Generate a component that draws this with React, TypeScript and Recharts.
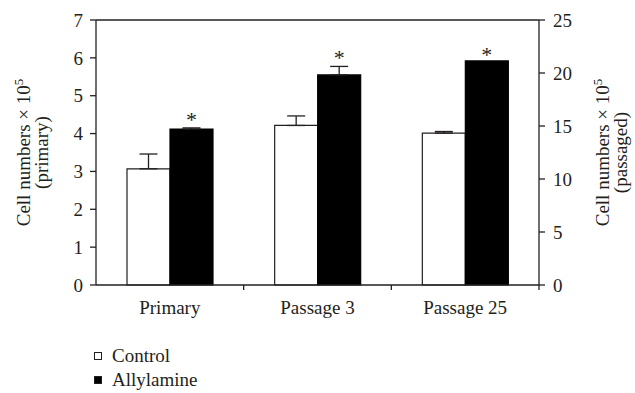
import { BarChart, Bar, XAxis, YAxis, ErrorBar, LabelList, Legend, ReferenceLine } from 'recharts';

const categories = ['Primary', 'Passage 3', 'Passage 25'];
// first group is read on the left (primary) axis, the passages on the right one
const groupAxis = ['primary', 'passaged', 'passaged'];
const controlMeans = [3.07, 15.05, 14.33];
const controlErrors = [0.39, 0.9, 0.15];
const allylamineMeans = [4.12, 19.82, 21.14];
const allylamineErrors = [0.03, 0.8, 0];
const significant = [true, true, true];
const primaryTicks = [0, 1, 2, 3, 4, 5, 6, 7];
const passagedTicks = [0, 5, 10, 15, 20, 25];
const seriesOrder = ['Control', 'Allylamine'];

const INK = '#231f20';
const FONT = '"Liberation Serif", "Times New Roman", serif';
const STAR_LIFT = [2, 10, -1]; // px of baseline above bar top, clears the error cap

const upOnly = (v: number) => (v > 0 ? [0, v] : null);

const rows = categories.map((name, i) => {
  const left = groupAxis[i] === 'primary';
  return {
    name,
    ctrlPrimary: left ? controlMeans[i] : null,
    ctrlPassaged: left ? null : controlMeans[i],
    allyPrimary: left ? allylamineMeans[i] : null,
    allyPassaged: left ? null : allylamineMeans[i],
    ctrlErrPrimary: left ? upOnly(controlErrors[i]) : null,
    ctrlErrPassaged: left ? null : upOnly(controlErrors[i]),
    allyErrPrimary: left ? upOnly(allylamineErrors[i]) : null,
    allyErrPassaged: left ? null : upOnly(allylamineErrors[i]),
  };
});

function CategoryTick({ x, y, payload }: any) {
  const edge = payload?.offset != null ? x + payload.offset : null;
  return (
    <g>
      {edge != null && <line x1={edge} x2={edge} y1={y} y2={y + 5} stroke={INK} strokeWidth={1.3} />}
      <text x={x} y={y + 29} textAnchor="middle" fontSize={19} fontFamily={FONT} fill={INK}>
        {payload.value}
      </text>
    </g>
  );
}

const axisTitle = (sub: string, first: number, second: number) => (props: any) => {
  const vb = props.viewBox ?? { x: 0, y: 0, width: 0, height: 0 };
  const cy = vb.y + vb.height / 2;
  const x1 = vb.x + first;
  const x2 = vb.x + second;
  return (
    <g fontFamily={FONT} fontSize={19} fill={INK}>
      <text x={x1} y={cy} textAnchor="middle" transform={`rotate(-90, ${x1}, ${cy})`}>
        Cell numbers × 10<tspan dy={-7} fontSize={13}>5</tspan>
      </text>
      <text x={x2} y={cy} textAnchor="middle" transform={`rotate(-90, ${x2}, ${cy})`}>
        {sub}
      </text>
    </g>
  );
};

// label value is the category name, so the mark is looked up per group
const star = (props: any) => {
  const { x, y, width, value } = props;
  const i = categories.indexOf(value);
  if (i < 0 || !significant[i]) return null;
  return (
    <text x={x + width / 2} y={y - STAR_LIFT[i]} textAnchor="middle" fontSize={22} fontFamily={FONT} fill={INK}>
      *
    </text>
  );
};

function KeyList({ payload }: any) {
  const items = (payload ?? [])
    .filter((e: any) => e.type !== 'none' && seriesOrder.includes(e.value))
    .sort((a: any, b: any) => seriesOrder.indexOf(a.value) - seriesOrder.indexOf(b.value));
  return (
    <div style={{ fontFamily: FONT, fontSize: 19, color: INK, paddingTop: 6 }}>
      {items.map((e: any) => (
        <div key={e.value} style={{ display: 'flex', alignItems: 'center', height: 24 }}>
          <span
            style={{ width: 8, height: 8, boxSizing: 'border-box', border: `1px solid ${INK}`, background: e.color, marginRight: 10 }}
          />
          {e.value}
        </div>
      ))}
    </div>
  );
}

export default function App() {
  const tickStyle = { fontSize: 19, fill: INK, fontFamily: FONT };
  return (
    <div style={{ position: 'absolute', left: 0, top: 0, background: '#fff' }}>
      <BarChart
        width={635}
        height={393}
        data={rows}
        margin={{ top: 20, right: 0, bottom: 1, left: 0 }}
        barCategoryGap={31}
        barGap={0}
      >
        <XAxis
          dataKey="name"
          height={53}
          interval={0}
          tickLine={false}
          tickSize={0}
          tickMargin={0}
          axisLine={{ stroke: INK, strokeWidth: 1.3 }}
          tick={<CategoryTick />}
        />
        <YAxis
          yAxisId="left"
          width={96}
          domain={[0, 7]}
          ticks={primaryTicks}
          tickSize={6}
          tickMargin={7}
          tick={tickStyle}
          axisLine={{ stroke: INK, strokeWidth: 1.3 }}
          tickLine={{ stroke: INK, strokeWidth: 1.3 }}
          label={axisTitle('(primary)', 30, 48)}
        />
        <YAxis
          yAxisId="right"
          orientation="right"
          width={96}
          domain={[0, 25]}
          ticks={passagedTicks}
          tickSize={6}
          tickMargin={8}
          tick={tickStyle}
          axisLine={{ stroke: INK, strokeWidth: 1.3 }}
          tickLine={{ stroke: INK, strokeWidth: 1.3 }}
          label={axisTitle('(passaged)', 70, 88)}
        />
        <ReferenceLine yAxisId="left" y={7} stroke={INK} strokeWidth={1.3} />
        <Bar dataKey="ctrlPrimary" name="Control" yAxisId="left" stackId="ctrl" fill="#fff" stroke={INK} strokeWidth={1.2} isAnimationActive={false}>
          <ErrorBar dataKey="ctrlErrPrimary" direction="y" width={9} stroke={INK} strokeWidth={1.3} />
        </Bar>
        <Bar dataKey="ctrlPassaged" yAxisId="right" stackId="ctrl" legendType="none" fill="#fff" stroke={INK} strokeWidth={1.2} isAnimationActive={false}>
          <ErrorBar dataKey="ctrlErrPassaged" direction="y" width={9} stroke={INK} strokeWidth={1.3} />
        </Bar>
        <Bar dataKey="allyPrimary" name="Allylamine" yAxisId="left" stackId="ally" fill="#000" stroke="#000" strokeWidth={1.2} isAnimationActive={false}>
          <ErrorBar dataKey="allyErrPrimary" direction="y" width={9} stroke={INK} strokeWidth={1.3} />
          <LabelList dataKey="name" content={star} />
        </Bar>
        <Bar dataKey="allyPassaged" yAxisId="right" stackId="ally" legendType="none" fill="#000" stroke="#000" strokeWidth={1.2} isAnimationActive={false}>
          <ErrorBar dataKey="allyErrPassaged" direction="y" width={9} stroke={INK} strokeWidth={1.3} />
          <LabelList dataKey="name" content={star} />
        </Bar>
        <Legend
          verticalAlign="bottom"
          align="left"
          layout="horizontal"
          content={<KeyList />}
          wrapperStyle={{ left: 94, bottom: 1, width: 200, height: 54 }}
        />
      </BarChart>
    </div>
  );
}
